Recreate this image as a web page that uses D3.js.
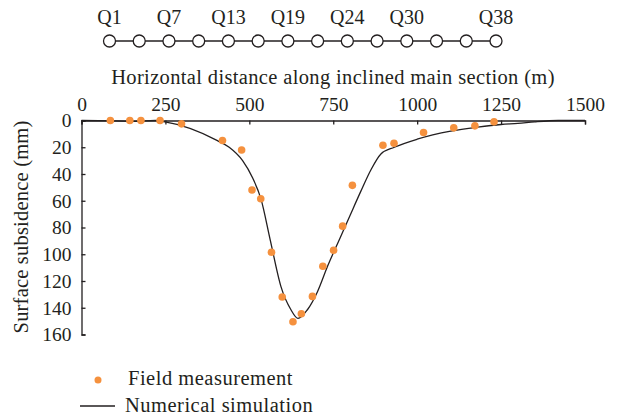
<!DOCTYPE html>
<html><head><meta charset="utf-8">
<script src="https://cdn.jsdelivr.net/npm/d3@7"></script>
<style>
html,body{margin:0;padding:0;background:#fff;}
svg, svg text{font-family:"Liberation Serif","Times New Roman","DejaVu Serif",serif !important;}
</style></head>
<body>
<svg id="c" width="618" height="417"></svg>
<script>
// ---- data ----
const xTicks = [0, 250, 500, 750, 1000, 1250, 1500];
const yTicks = [0, 20, 40, 60, 80, 100, 120, 140, 160];
const fieldX = [86, 144, 177, 234, 298, 420, 477, 508, 534, 566, 598, 630, 655, 688, 719, 751, 778, 807, 898, 931, 1019, 1109, 1172, 1229];
const fieldY = [0, 0, 0, 0, 2.5, 15, 22, 52, 58.5, 98.5, 132, 150.5, 144.5, 131.5, 109, 97, 79, 48.5, 18.5, 17, 9, 5.5, 4, 1];
const simX = [0, 100, 160, 220, 245, 405, 440, 480, 510, 535, 562, 594, 624, 645, 673, 703, 733, 770, 800, 832, 862, 892, 932, 1000, 1100, 1180, 1250, 1300, 1350, 1420, 1500];
const simY = [0, 0.3, 0.6, 0, 0.8, 15, 20, 30, 43, 59, 89, 124, 141.5, 148, 141.5, 128, 109, 88, 71, 53, 37, 25, 20, 14, 8, 5, 3, 2.2, 1, 0, 0];
const stations = d3.range(14);
const stationLabels = [[0, "Q1"], [2, "Q7"], [4, "Q13"], [6, "Q19"], [8, "Q24"], [10, "Q30"], [13, "Q38"]];
const legendItems = ["Field measurement", "Numerical simulation"];
const xTitle = "Horizontal distance along inclined main section (m)";
const yTitle = "Surface subsidence (mm)";

// ---- layout ----
const FONT = "'Liberation Serif', 'Times New Roman', 'DejaVu Serif', serif";
const svg = d3.select("#c");
const ink = "#231f20";
const orange = "#f5913e";
const x = d3.scaleLinear().domain([0, 1500]).range([81.5, 585]);
const y = d3.scaleLinear().domain([0, 160]).range([120.5, 334.5]);

// station strip
const sx = d3.scaleLinear().domain([0, 13]).range([109.5, 496]);
const strip = svg.append("g");
strip.append("line").attr("x1", sx(0)).attr("x2", sx(13)).attr("y1", 41).attr("y2", 41)
  .attr("stroke", ink).attr("stroke-width", 1.3);
strip.selectAll("circle").data(stations).join("circle")
  .attr("cx", d => sx(d)).attr("cy", 41).attr("r", 6)
  .attr("fill", "#fff").attr("stroke", ink).attr("stroke-width", 1.3);
strip.selectAll("text").data(stationLabels).join("text")
  .attr("x", d => sx(d[0])).attr("y", 24).attr("text-anchor", "middle")
  .style("font-family", FONT).attr("font-size", 20).attr("fill", ink).text(d => d[1]);

// axes
const gx = svg.append("g").attr("transform", `translate(0,${y(0)})`)
  .call(d3.axisTop(x).tickValues(xTicks).tickFormat(d3.format("d")).tickSizeInner(-4).tickSizeOuter(-4).tickPadding(10));
const gy = svg.append("g").attr("transform", `translate(${x(0)},0)`)
  .call(d3.axisLeft(y).tickValues(yTicks).tickFormat(d3.format("d")).tickSizeInner(-4).tickSizeOuter(-4).tickPadding(10));
[gx, gy].forEach(g => {
  g.attr("font-family", null);
  g.selectAll("path,line").attr("stroke", ink).attr("stroke-width", 1.3);
  g.selectAll("text").style("font-family", FONT).attr("font-size", 19.5).attr("fill", ink);
});

svg.append("text").attr("x", 333).attr("y", 84).attr("text-anchor", "middle")
  .style("font-family", FONT).attr("font-size", 20.5).attr("letter-spacing", 0.35).attr("fill", ink).text(xTitle);
svg.append("text").attr("transform", `translate(28,227) rotate(-90)`).attr("text-anchor", "middle")
  .style("font-family", FONT).attr("font-size", 20.5).attr("letter-spacing", 0.2).attr("fill", ink).text(yTitle);

// simulation line
const simData = simX.map((v, i) => [v, simY[i]]);
svg.append("path").datum(simData)
  .attr("d", d3.line().x(d => x(d[0])).y(d => y(d[1])).curve(d3.curveMonotoneX))
  .attr("fill", "none").attr("stroke", ink).attr("stroke-width", 1.3);

// field measurement points
const fieldData = fieldX.map((v, i) => [v, fieldY[i]]);
svg.append("g").selectAll("circle").data(fieldData).join("circle")
  .attr("cx", d => x(d[0])).attr("cy", d => y(d[1])).attr("r", 3.8).attr("fill", orange);

// legend
const lg = svg.append("g");
lg.append("circle").attr("cx", 98).attr("cy", 380).attr("r", 3.5).attr("fill", orange);
lg.append("text").attr("x", 128).attr("y", 385).style("font-family", FONT).attr("font-size", 20.5).attr("letter-spacing", 0.5).attr("fill", ink).text(legendItems[0]);
lg.append("line").attr("x1", 80).attr("x2", 115).attr("y1", 406).attr("y2", 406).attr("stroke", ink).attr("stroke-width", 1.3);
lg.append("text").attr("x", 125).attr("y", 412).style("font-family", FONT).attr("font-size", 20.5).attr("letter-spacing", 0.5).attr("fill", ink).text(legendItems[1]);
</script>
</body></html>
